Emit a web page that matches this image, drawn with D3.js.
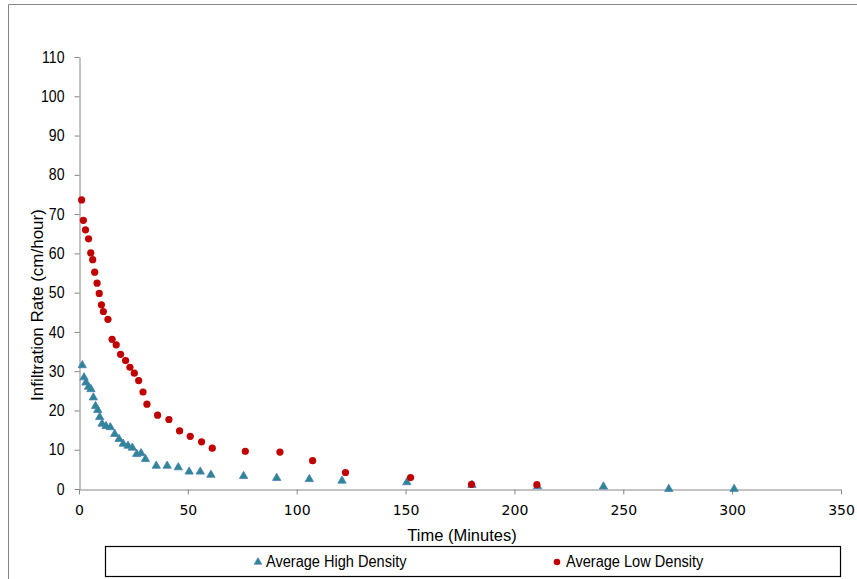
<!DOCTYPE html>
<html>
<head>
<meta charset="utf-8">
<script src="https://cdn.jsdelivr.net/npm/d3@7"></script>
<style>
  body { margin: 0; background: #fff; }
  .narrow { font-family: "Liberation Sans Narrow", "Arial Narrow", "Liberation Sans", sans-serif; }
</style>
</head>
<body>
<div class="chart"></div>
<script>
// time (minutes) and infiltration rate (cm/hour)
var highTime = [1.5, 2.3, 3.2, 4.4, 5.5, 6.6, 7.6, 8.6, 9.5, 10.6, 12.4, 14.4, 16.4, 18.4, 20.3, 22.5, 24.5, 26.5, 28.5, 30.5,
                35.5, 40.5, 45.6, 50.6, 55.7, 60.6, 75.6, 90.8, 105.8, 120.8, 150.6, 180.5, 210.6, 240.9, 270.9, 300.9];
var highRate = [31.5, 28.4, 27.1, 26.0, 25.4, 23.3, 21.1, 20.1, 18.3, 16.6, 16.0, 15.7, 14.0, 12.7, 11.5, 11.0, 10.5, 8.9, 9.1, 7.6,
                5.9, 5.9, 5.5, 4.4, 4.4, 3.6, 3.3, 2.8, 2.5, 2.1, 1.7, 1.0, 0.7, 0.6, 0.0, 0.0];

var lowTime = [1.2, 2.0, 3.0, 4.4, 5.4, 6.3, 7.2, 8.3, 9.3, 10.3, 11.2, 13.3, 15.2, 17.1, 19.1, 21.4, 23.4, 25.4, 27.4, 29.4,
               31.2, 36.1, 41.3, 46.2, 51.1, 56.3, 61.2, 76.4, 92.3, 107.3, 122.4, 152.3, 180.3, 210.3];
var lowRate = [73.6, 68.4, 66.0, 63.7, 60.1, 58.4, 55.2, 52.4, 49.8, 46.9, 45.2, 43.2, 38.1, 36.7, 34.3, 32.7, 31.0, 29.5, 27.6, 24.7,
               21.6, 18.8, 17.7, 14.8, 13.4, 12.0, 10.4, 9.6, 9.4, 7.2, 4.2, 2.9, 1.2, 1.1];

var xTicks = [0, 50, 100, 150, 200, 250, 300, 350];
var yTicks = [0, 10, 20, 30, 40, 50, 60, 70, 80, 90, 100, 110];
var seriesNames = ["Average High Density", "Average Low Density"];

var W = 857, H = 579;
var axisColor = "#868686";
var redColor = "#c00000";
var triFill = "#2d8790", triStroke = "#4a7ebb";

// squeeze text a bit, no narrow font is installed
function narrow(sel, f) {
    sel.each(function() {
        var len = this.getComputedTextLength();
        d3.select(this).attr("textLength", len * f).attr("lengthAdjust", "spacingAndGlyphs");
    });
}

var svg = d3.select(".chart").append("svg")
    .attr("width", W).attr("height", H);

// outer frame
svg.append("path")
    .attr("d", "M8.5," + H + "V4.5H" + W)
    .attr("fill", "none").attr("stroke", axisColor).attr("stroke-width", 1);

var x = d3.scaleLinear().domain([0, 350]).range([79, 841]);
var y = d3.scaleLinear().domain([0, 110]).range([489, 57]);

// y axis
var yAxis = svg.append("g").attr("transform", "translate(79.5,0)")
    .call(d3.axisLeft(y).tickValues(yTicks).tickSize(5).tickSizeOuter(0).tickPadding(10));
yAxis.selectAll("text").attr("class", "narrow").style("font-size", "16px").attr("fill", "#000")
    .call(narrow, 0.88);

// x axis
var xAxis = svg.append("g").attr("transform", "translate(0,489.5)")
    .call(d3.axisBottom(x).tickValues(xTicks).tickSize(5).tickSizeOuter(0).tickPadding(11));
xAxis.selectAll("text").style("font-family", "'DejaVu Sans', Verdana, sans-serif").style("font-size", "14px").attr("fill", "#000");

svg.selectAll(".domain, .tick line").attr("stroke", axisColor);

// axis titles
svg.append("text").attr("class", "narrow")
    .attr("transform", "translate(43,305) rotate(-90)")
    .attr("text-anchor", "middle").style("font-size", "17px")
    .text("Infiltration Rate (cm/hour)");

svg.append("text").attr("class", "narrow")
    .attr("x", 462).attr("y", 541)
    .attr("text-anchor", "middle").style("font-size", "17px")
    .text("Time (Minutes)")
    .call(narrow, 0.97);

// points
var lowData = lowTime.map(function(t, i) { return { t: t, v: lowRate[i] }; });
var highData = highTime.map(function(t, i) { return { t: t, v: highRate[i] }; });

var tri = d3.symbol().type(d3.symbolTriangle).size(30);

svg.append("g").selectAll("path")
    .data(highData)
    .enter().append("path")
    .attr("d", tri)
    .attr("transform", function(d) { return "translate(" + x(d.t) + "," + y(d.v) + ")"; })
    .attr("fill", triFill).attr("stroke", triStroke).attr("stroke-width", 0.8);

svg.append("g").selectAll("circle")
    .data(lowData)
    .enter().append("circle")
    .attr("cx", function(d) { return x(d.t); })
    .attr("cy", function(d) { return y(d.v); })
    .attr("r", 3.6)
    .attr("fill", redColor);

// legend
var lg = svg.append("g");
lg.append("rect")
    .attr("x", 105.5).attr("y", 546.5).attr("width", 735).attr("height", 30)
    .attr("fill", "#fff").attr("stroke", "#000").attr("stroke-width", 1.2);

lg.append("path").attr("d", tri.size(24))
    .attr("transform", "translate(258,562)")
    .attr("fill", triFill).attr("stroke", triStroke).attr("stroke-width", 0.8);
lg.append("text").attr("class", "narrow")
    .attr("x", 266).attr("y", 567).style("font-size", "16px")
    .text(seriesNames[0])
    .call(narrow, 0.91);

lg.append("circle").attr("cx", 557).attr("cy", 562).attr("r", 3.3).attr("fill", redColor);
lg.append("text").attr("class", "narrow")
    .attr("x", 566).attr("y", 567).style("font-size", "16px")
    .text(seriesNames[1])
    .call(narrow, 0.91);
</script>
</body>
</html>
